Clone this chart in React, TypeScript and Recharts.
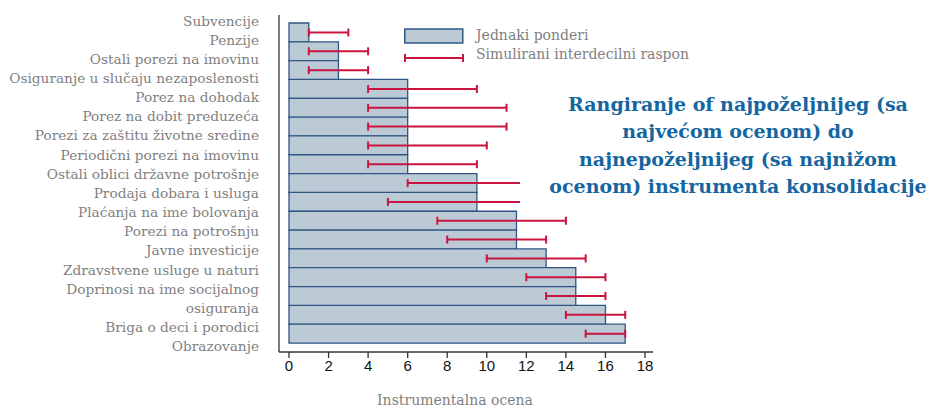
import { BarChart, Bar, XAxis, YAxis, ErrorBar, Legend } from "recharts";

const categories = [
    "Subvencije",
    "Penzije",
    "Ostali porezi na imovinu",
    "Osiguranje u slučaju nezaposlenosti",
    "Porez na dohodak",
    "Porez na dobit preduzeća",
    "Porezi za zaštitu životne sredine",
    "Periodični porezi na imovinu",
    "Ostali oblici državne potrošnje",
    "Prodaja dobara i usluga",
    "Plaćanja na ime bolovanja",
    "Porezi na potrošnju",
    "Javne investicije",
    "Zdravstvene usluge u naturi",
    "Doprinosi na ime socijalnog osiguranja",
    "Briga o deci i porodici",
    "Obrazovanje",
];

// label lines as printed on the left (one category wraps on two lines)
const labelLines = [
    "Subvencije",
    "Penzije",
    "Ostali porezi na imovinu",
    "Osiguranje u slučaju nezaposlenosti",
    "Porez na dohodak",
    "Porez na dobit preduzeća",
    "Porezi za zaštitu životne sredine",
    "Periodični porezi na imovinu",
    "Ostali oblici državne potrošnje",
    "Prodaja dobara i usluga",
    "Plaćanja na ime bolovanja",
    "Porezi na potrošnju",
    "Javne investicije",
    "Zdravstvene usluge u naturi",
    "Doprinosi na ime socijalnog",
    "osiguranja",
    "Briga o deci i porodici",
    "Obrazovanje",
];

const equalWeights = [1, 2.5, 2.5, 6, 6, 6, 6, 6, 9.5, 9.5, 11.5, 11.5, 13, 14.5, 14.5, 16, 17];
const rangeLow = [1, 1, 1, 4, 4, 4, 4, 4, 6, 5, 7.5, 8, 10, 12, 13, 14, 15];
const rangeHigh = [3, 4, 4, 9.5, 11, 11, 10, 9.5, 12, 12, 14, 13, 15, 16, 16, 17, 17];

const xTicks = [0, 2, 4, 6, 8, 10, 12, 14, 16, 18];

const BAR_FILL = "#bccad6";
const BAR_STROKE = "#2f5682";
const RANGE_COLOR = "#c8143f";
const LABEL_GRAY = "#7f7f7f";
const SERIF = "'DejaVu Serif', serif";

const data = categories.map((name, i) => ({
    name,
    value: equalWeights[i],
    range: [equalWeights[i] - rangeLow[i], rangeHigh[i] - equalWeights[i]],
}));

const labelTicks = labelLines.map((_, i) => i);

const LegendContent = () => (
    <svg width={320} height={42} style={{ display: "block" }}>
        <rect x={0.75} y={2} width={58} height={14} fill={BAR_FILL} stroke={BAR_STROKE} strokeWidth={1.5} />
        <text x={72} y={9} dominantBaseline="middle" fontFamily={SERIF} fontSize={14} fill={LABEL_GRAY}>
            Jednaki ponderi
        </text>
        <line x1={0.5} x2={59.5} y1={31} y2={31} stroke={RANGE_COLOR} strokeWidth={2} />
        <line x1={1} x2={1} y1={27} y2={35} stroke={RANGE_COLOR} strokeWidth={2} />
        <line x1={59} x2={59} y1={27} y2={35} stroke={RANGE_COLOR} strokeWidth={2} />
        <text x={72} y={28} dominantBaseline="middle" fontFamily={SERIF} fontSize={14} fill={LABEL_GRAY}>
            Simulirani interdecilni raspon
        </text>
    </svg>
);

export default function App() {
    return (
        <div style={{ position: "relative", width: 928, height: 399, overflow: "hidden" }}>
            <BarChart
                width={920}
                height={399}
                data={data}
                layout="vertical"
                barCategoryGap={0}
                margin={{ top: 7, right: 275, bottom: 0, left: 0 }}
            >
                <XAxis
                    type="number"
                    domain={[0, 18]}
                    ticks={xTicks}
                    interval={0}
                    padding={{ left: 10, right: 8 }}
                    height={55}
                    stroke="#333"
                    strokeWidth={1.3}
                    tickSize={6}
                    tick={{ fontFamily: "'Liberation Sans', Arial, sans-serif", fontSize: 15, fill: "#111" }}
                    label={{
                        value: "Instrumentalna ocena",
                        position: "insideBottom",
                        offset: 2,
                        dx: -11,
                        style: { fontFamily: SERIF, fontSize: 14, fill: LABEL_GRAY },
                    }}
                />
                <YAxis
                    yAxisId="bars"
                    type="category"
                    dataKey="name"
                    width={10}
                    tickSize={7}
                    tick={false}
                    padding={{ top: 8, bottom: 9 }}
                    stroke="#333"
                    strokeWidth={1.3}
                />
                {/* label axis: the chart maps it over the row indices, so padding sets the line spacing */}
                <YAxis
                    yAxisId="labels"
                    type="number"
                    allowDataOverflow
                    ticks={labelTicks}
                    interval={0}
                    padding={{ top: 5.7, bottom: 24.9 }}
                    tickFormatter={(i: number) => labelLines[i]}
                    width={261}
                    axisLine={false}
                    tickLine={false}
                    tickSize={0}
                    tickMargin={10}
                    tick={{ fontFamily: SERIF, fontSize: 13.7, fill: LABEL_GRAY }}
                />
                <Legend
                    layout="horizontal"
                    verticalAlign="middle"
                    align="center"
                    content={() => <LegendContent />}
                    wrapperStyle={{ position: "absolute", left: 396, top: 19, width: 320, height: 42 }}
                />
                <Bar
                    yAxisId="bars"
                    dataKey="value"
                    fill={BAR_FILL}
                    stroke={BAR_STROKE}
                    strokeWidth={1.3}
                    isAnimationActive={false}
                >
                    <ErrorBar
                        dataKey="range"
                        direction="x"
                        width={4}
                        stroke={RANGE_COLOR}
                        strokeWidth={2}
                        isAnimationActive={false}
                    />
                </Bar>
            </BarChart>
            <div
                style={{
                    position: "absolute",
                    left: 512,
                    top: 77,
                    width: 396,
                    paddingLeft: 20,
                    paddingTop: 6,
                    height: 123,
                    boxSizing: "content-box",
                    background: "#fff",
                    color: "#1565a0",
                    fontFamily: SERIF,
                    fontWeight: 700,
                    fontSize: 19,
                    lineHeight: "27.3px",
                    textAlign: "center",
                    whiteSpace: "nowrap",
                }}
            >
                Rangiranje of najpoželjnijeg (sa
                <br />
                najvećom ocenom) do
                <br />
                najnepoželjnijeg (sa najnižom
                <br />
                ocenom) instrumenta konsolidacije
            </div>
        </div>
    );
}
